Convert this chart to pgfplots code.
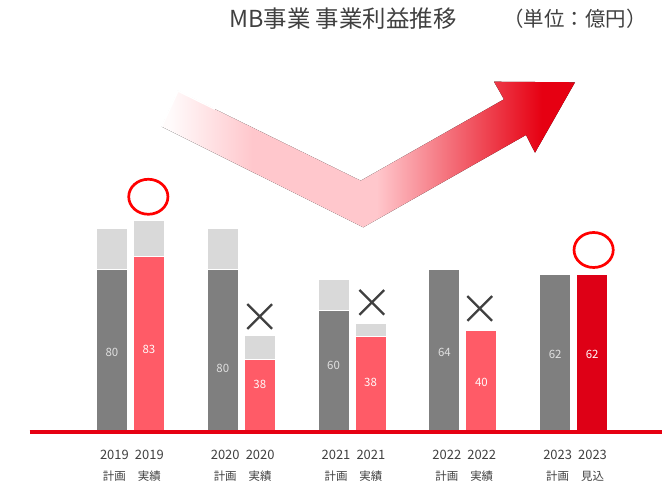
\documentclass[border=0pt]{standalone}
\usepackage{fontspec}
\setmainfont{Noto Sans CJK JP}
\usepackage{pgfplots}
\pgfplotsset{compat=1.18}
\definecolor{textgrey}{HTML}{404040}
\definecolor{plangrey}{HTML}{7F7F7F}
\definecolor{lightgrey}{HTML}{D9D9D9}
\definecolor{actred}{HTML}{FF5B67}
\definecolor{darkred}{HTML}{DE0016}
\definecolor{linered}{HTML}{E60012}
\definecolor{arrowpink}{HTML}{FFC7CC}
\definecolor{arrowred}{HTML}{E60012}
\definecolor{ringred}{HTML}{FF0000}
\colorlet{fadepink}{arrowpink!8!white}
\pgfdeclarehorizontalshading{arrowshade}{100bp}{color(0bp)=(fadepink); color(26bp)=(fadepink); color(36bp)=(arrowpink); color(51bp)=(arrowpink); color(71bp)=(arrowred); color(100bp)=(arrowred)}

\newcommand{\yl}[2]{#1\\\fontsize{11.5}{21}\selectfont #2}

\begin{document}
\begin{tikzpicture}
\useasboundingbox (0bp,0bp) rectangle (667bp,483bp);
% title
\node[text=textgrey,font=\fontsize{23.5}{27}\selectfont] at (343bp,464bp) {MB事業 事業利益推移};
\node[text=textgrey,font=\fontsize{20.5}{24}\selectfont] at (575bp,464bp) {（単位：億円）};
% V-shaped trend arrow
\fill[shading=arrowshade] (178bp,392bp) -- (360.7bp,302.3bp) -- (504bp,383.7bp) -- (494bp,401.3bp)
  -- (575bp,400.7bp) -- (535bp,330.3bp) -- (526bp,348bp) -- (363.3bp,255.7bp) -- (161.7bp,356.3bp) -- cycle;
\draw[white,line width=1.5bp] (161.7bp,356.3bp) -- (178bp,392bp) -- (215bp,373.8bp);

\begin{axis}[
  at={(30bp,53bp)},anchor=south west,
  scale only axis,width=630bp,height=381.7bp,
  xmin=-0.907,xmax=4.779,ymin=0,ymax=190,
  clip=false,
  axis line style={draw=none},tick style={draw=none},
  ytick=\empty,
  xtick={-0.145,0.17,0.855,1.17,1.855,2.17,2.855,3.17,3.855,4.17},
  xticklabels={{\yl{2019}{計画}},{\yl{2019}{実績}},{\yl{2020}{計画}},{\yl{2020}{実績}},
    {\yl{2021}{計画}},{\yl{2021}{実績}},{\yl{2022}{計画}},{\yl{2022}{実績}},
    {\yl{2023}{計画}},{\yl{2023}{見込}}},
  xticklabel style={align=center,text=textgrey,anchor=north,inner sep=0pt,
    font=\fontsize{13}{21}\selectfont,yshift=-19.5bp},
]
% light grey totals (behind)
\addplot[ybar,bar width=31bp,bar shift=0pt,fill=lightgrey,draw=white,line width=1bp]
  coordinates {(-0.167,100.4) (0.833,100.4) (1.833,75.0) (0.167,104.2) (1.167,46.8) (2.167,53.1)};
% plan
\addplot[ybar,bar width=31bp,bar shift=0pt,fill=plangrey,draw=white,line width=1bp]
  coordinates {(-0.167,80.0) (0.833,80.0) (1.833,59.4) (2.833,80.0) (3.833,77.5)};
% actual
\addplot[ybar,bar width=31bp,bar shift=0pt,fill=actred,draw=white,line width=1bp]
  coordinates {(0.167,86.3) (1.167,35.2) (2.167,46.6) (3.167,49.3)};
% outlook
\addplot[ybar,bar width=31bp,bar shift=0pt,fill=darkred,draw=white,line width=1bp]
  coordinates {(4.167,77.5)};
% value labels
\addplot[only marks,mark=none,nodes near coords,point meta=explicit symbolic,
  nodes near coords style={anchor=center,font=\fontsize{11.5}{13}\selectfont,text=white!88!black}]
  table[meta=lab] {
x y lab
-0.167 38.7 80
0.833 30.9 80
1.833 31.9 60
2.833 38.8 64
3.833 37.7 62
};
\addplot[only marks,mark=none,nodes near coords,point meta=explicit symbolic,
  nodes near coords style={anchor=center,font=\fontsize{11.5}{13}\selectfont,text=white!90!pink}]
  table[meta=lab] {
x y lab
0.167 40.2 83
1.167 22.9 38
2.167 23.7 38
3.167 23.7 40
4.167 37.7 62
};
% baseline
\draw[linered,line width=4bp] (axis cs:-0.91,-1.0) -- (axis cs:4.795,-1.0);
% circles (met) and crosses (missed)
\addplot[only marks,mark=o,mark size=17.5bp,mark options={xscale=1.12,line width=2.7bp,draw=ringred}]
  coordinates {(0.161,116.1) (4.180,89.6)};
\addplot[only marks,mark=x,mark size=17.5bp,mark options={line width=2.3bp,draw=textgrey}]
  coordinates {(1.166,56.5) (2.178,63.5) (3.152,60.5)};
\end{axis}
\end{tikzpicture}
\end{document}
